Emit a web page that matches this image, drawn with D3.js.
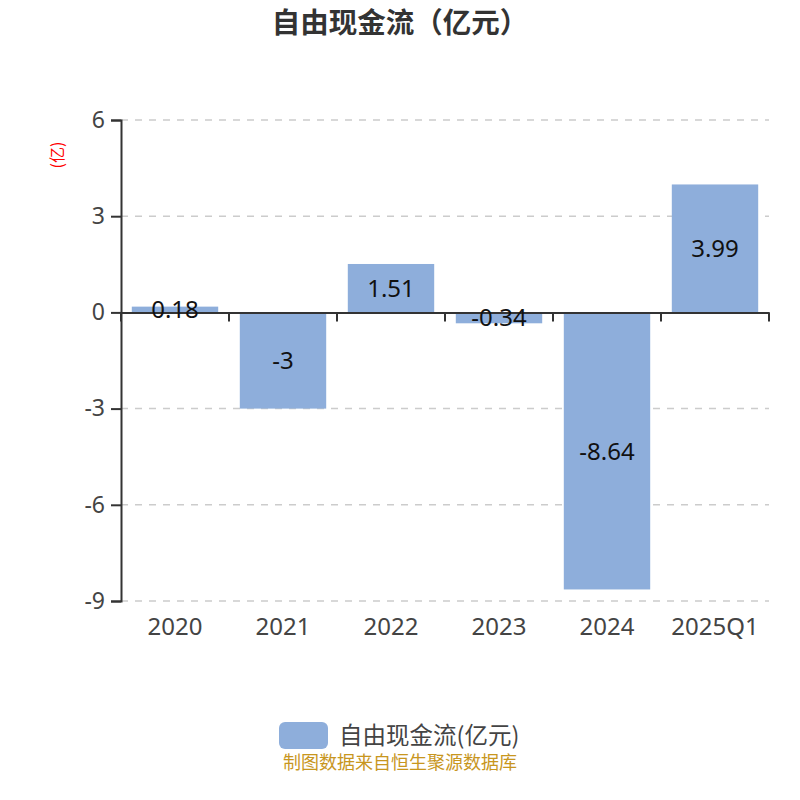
<!DOCTYPE html>
<html>
<head>
<meta charset="utf-8">
<script src="https://cdn.jsdelivr.net/npm/d3@7"></script>
<style>
  body { margin: 0; background: #fff; }
  text { font-family: "Noto Sans CJK SC", "Noto Sans", sans-serif; }
</style>
</head>
<body>
<script>
let w = 800
let h = 800

let years = ["2020", "2021", "2022", "2023", "2024", "2025Q1"]
let cashFlow = [0.18, -3, 1.51, -0.34, -8.64, 3.99]
let yTicks = [6, 3, 0, -3, -6, -9]

let plotLeft = 121, plotRight = 769, plotTop = 120, plotBottom = 601

let svg = d3.select("body").append("svg")
  .attr("width", w)
  .attr("height", h)

let x = d3.scaleBand()
  .domain(years)
  .range([plotLeft, plotRight])
  .paddingInner(0.2)
  .paddingOuter(0.1)

let y = d3.scaleLinear()
  .domain([-9, 6])
  .range([plotBottom, plotTop])

// title
svg.append("text")
  .text("自由现金流（亿元）")
  .attr("x", w / 2)
  .attr("y", 33)
  .attr("text-anchor", "middle")
  .attr("font-size", 28.5)
  .attr("font-weight", "bold")
  .attr("fill", "#333")

// grid
svg.append("g")
  .selectAll("line")
  .data(yTicks.filter(d => d !== 0))
  .enter()
  .append("line")
  .attr("x1", plotLeft)
  .attr("x2", plotRight)
  .attr("y1", d => y(d))
  .attr("y2", d => y(d))
  .attr("stroke", "#ccc")
  .attr("stroke-width", 1.5)
  .attr("stroke-dasharray", "7,7")

// y axis
let yAxis = svg.append("g")
  .attr("transform", "translate(" + plotLeft + ",0)")
  .call(d3.axisLeft(y).tickValues(yTicks).tickSize(10).tickPadding(6).tickFormat(d => String(d)))
yAxis.select(".domain").attr("stroke", "#333").attr("stroke-width", 2)
yAxis.selectAll(".tick line").attr("stroke", "#333").attr("stroke-width", 2)
yAxis.selectAll(".tick text")
  .attr("font-size", 23)
  .attr("fill", "#444")
  .style("font-family", "'Noto Sans', sans-serif")

svg.append("text")
  .text("(亿)")
  .attr("transform", "translate(63,155) rotate(-90)")
  .attr("text-anchor", "middle")
  .attr("font-size", 16)
  .attr("fill", "red")

// bars
svg.append("g")
  .selectAll("rect")
  .data(cashFlow)
  .enter()
  .append("rect")
  .attr("x", (d, i) => x(years[i]))
  .attr("width", x.bandwidth())
  .attr("y", d => y(Math.max(0, d)))
  .attr("height", d => Math.abs(y(d) - y(0)))
  .attr("fill", "#8eaedb")

// x axis at zero
let xAxis = svg.append("g")
  .attr("transform", "translate(0," + y(0) + ")")
  .call(d3.axisBottom(x).tickSize(0).tickFormat(""))
xAxis.select(".domain").attr("stroke", "#333").attr("stroke-width", 2)

let step = x.step()
svg.append("g")
  .selectAll("line")
  .data(d3.range(years.length + 1))
  .enter()
  .append("line")
  .attr("x1", i => plotLeft + i * step)
  .attr("x2", i => plotLeft + i * step)
  .attr("y1", y(0))
  .attr("y2", y(0) + 9)
  .attr("stroke", "#333")
  .attr("stroke-width", 2)

// category labels
svg.append("g")
  .selectAll("text")
  .data(years)
  .enter()
  .append("text")
  .text(d => d)
  .attr("x", d => x(d) + x.bandwidth() / 2)
  .attr("y", plotBottom + 34)
  .attr("text-anchor", "middle")
  .attr("font-size", 24)
  .attr("fill", "#444")
  .style("font-family", "'Noto Sans', sans-serif")

// value labels
svg.append("g")
  .selectAll("text")
  .data(cashFlow)
  .enter()
  .append("text")
  .text(d => d)
  .attr("x", (d, i) => x(years[i]) + x.bandwidth() / 2)
  .attr("y", d => (y(d) + y(0)) / 2)
  .attr("dy", "0.36em")
  .attr("text-anchor", "middle")
  .attr("font-size", 24)
  .attr("fill", "#111")
  .style("font-family", "'Noto Sans', sans-serif")

// legend
svg.append("rect")
  .attr("x", 279)
  .attr("y", 722)
  .attr("width", 49)
  .attr("height", 27)
  .attr("rx", 6)
  .attr("fill", "#8eaedb")
svg.append("text")
  .text("自由现金流(亿元)")
  .attr("x", 339)
  .attr("y", 744)
  .attr("font-size", 23.5)
  .attr("fill", "#444")

// source
svg.append("text")
  .text("制图数据来自恒生聚源数据库")
  .attr("x", w / 2)
  .attr("y", 769)
  .attr("text-anchor", "middle")
  .attr("font-size", 18)
  .attr("fill", "#c8961e")
</script>
</body>
</html>
